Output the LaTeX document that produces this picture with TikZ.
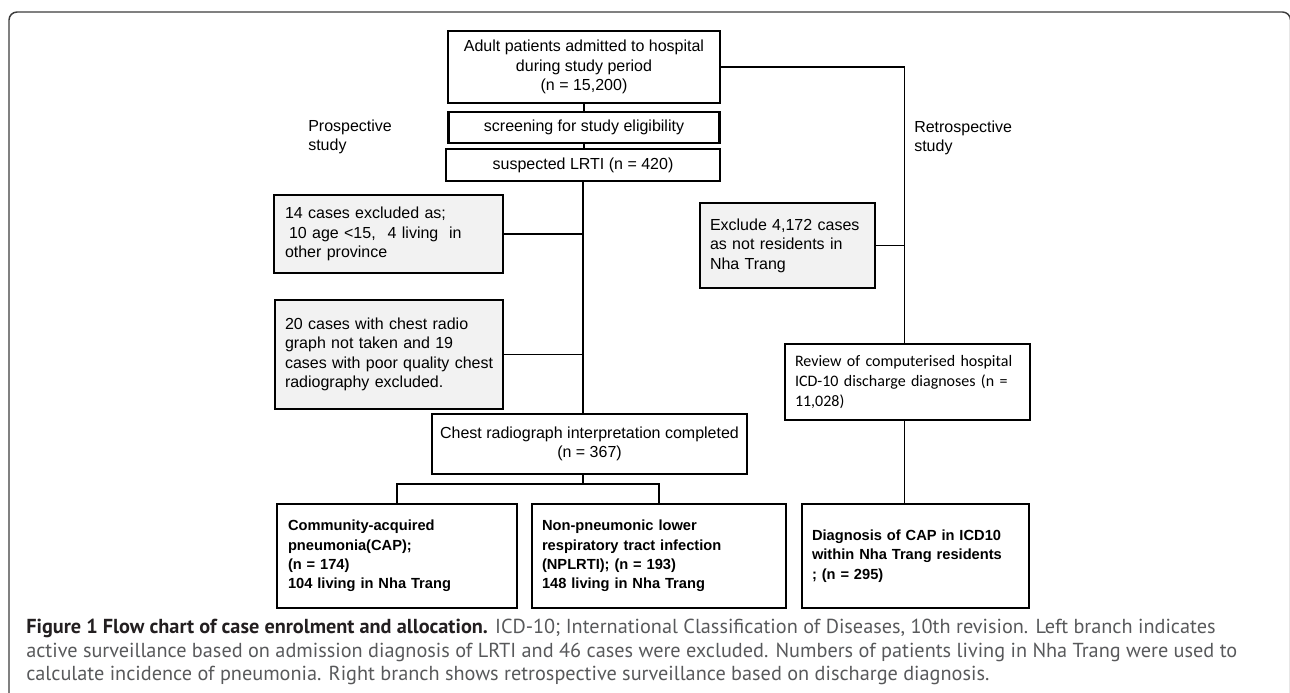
\documentclass[tikz,border=0pt]{standalone}
\usepackage{fontspec}
\setmainfont{Liberation Sans}
\newfontfamily\calib{Carlito}
\newfontfamily\capfont{PT Sans}
\usetikzlibrary{calc}
\definecolor{exgray}{RGB}{242,242,242}
\definecolor{framegray}{RGB}{60,60,60}
\definecolor{capgray}{RGB}{88,89,91}
\definecolor{capdark}{RGB}{35,31,32}
\newcommand{\capsize}{\capfont\fontsize{15.2}{18}\selectfont}
\begin{document}
\begin{tikzpicture}[x=0.75pt,y=-0.75pt,
  box/.style={draw=black, line width=1.9pt, inner ysep=0pt, font=\fontsize{12}{14.6}\selectfont},
  cbox/.style={box, align=center},
  lbox/.style={box, align=left},
  gbox/.style={lbox, fill=exgray},
  bbox/.style={lbox, font=\fontsize{11}{14.6}\selectfont\bfseries},
  rbox/.style={lbox, font=\calib\fontsize{12}{15}\selectfont},
  conn/.style={line width=1.4pt, draw=black},
  lbl/.style={font=\fontsize{12}{14.6}\selectfont, align=left, inner sep=0pt, anchor=west},
  capline/.style={inner sep=0pt, anchor=west, text=capgray}
]
\useasboundingbox (0,0) rectangle (1290,693);
\begin{scope}
  \clip (0,0) rectangle (1290,693);
  \draw[framegray, line width=1.1pt, rounded corners=6pt] (9,700) -- (9,12) -- (1290.5,12) -- (1290.5,700);
\end{scope}

% left / central column
\node[cbox, minimum width=204pt, minimum height=54pt] (adult) at (584,67)
  {Adult patients admitted to hospital\\during study period\\(n = 15,200)};
\node[cbox, minimum width=203.25pt, minimum height=23.25pt] (screen) at (584,127.5)
  {screening for study eligibility};
\node[cbox, minimum width=205.5pt, minimum height=24pt] (lrti) at (583,165)
  {suspected LRTI (n = 420)};
\node[gbox, inner xsep=8.25pt, text width=155.25pt, minimum height=58.5pt] (ex1) at (388.5,234)
  {14 cases excluded as;\\\hspace*{3pt}10 age <15,\hspace*{9pt}4 living\hspace*{4pt} in\\other province};
\node[gbox, inner xsep=7.5pt, text width=156pt, minimum height=81.75pt] (ex2) at (389,354.5)
  {\mbox{20 cases with chest radio}\\\mbox{graph not taken and 19}\\\mbox{cases with poor quality chest}\\\mbox{radiography excluded.}};
\node[cbox, minimum width=236.25pt, minimum height=45pt] (chest) at (589.5,444)
  {Chest radiograph interpretation completed\\(n = 367)};
\node[bbox, inner xsep=8.25pt, text width=163.5pt, minimum height=78pt] (cap) at (397,556)
  {Community-acquired\\pneumonia(CAP);\\(n = 174)\\104 living in Nha Trang};
\node[bbox, inner xsep=7.5pt, text width=175.5pt, minimum height=78pt] (npl) at (659,556)
  {Non-pneumonic lower\\respiratory tract infection\\(NPLRTI); (n = 193)\\148 living in Nha Trang};

% right column
\node[gbox, inner xsep=7.5pt, text width=116.25pt, minimum height=63.75pt] (ex3) at (787.5,245.5)
  {Exclude 4,172 cases\\as not residents in\\Nha Trang};
\node[rbox, inner xsep=7.5pt, text width=168.75pt, minimum height=57pt] (review) at (907.5,382)
  {Review of computerised hospital\\ICD-10 discharge diagnoses (n =\\11,028)};
\node[bbox, inner xsep=7.5pt, text width=155.25pt, minimum height=78pt] (diag) at (915.5,556)
  {Diagnosis of CAP in ICD10\\within Nha Trang residents\\; (n = 295)\\[5pt]};

% labels
\node[lbl] (prosp) at (308,137) {Prospective\\study};
\node[lbl] (retro) at (914,138) {Retrospective\\study};

% connectors
\coordinate (rc) at (904.5,0);
\coordinate (split) at (lrti.south |- 0,484);
\draw[conn] (adult.south) -- (adult.south |- screen.north);
\draw[conn] (screen.south) -- (screen.south |- lrti.north);
\draw[conn] (lrti.south) -- (lrti.south |- chest.north);
\draw[conn] (ex1.east) -- (ex1.east -| lrti.south);
\draw[conn] (ex2.east) -- (ex2.east -| lrti.south);
\draw[conn] (lrti.south |- chest.south) -- (split);
\draw[conn] (cap.north) |- (split) -| (npl.north);
\draw[conn] (adult.east) -| (rc |- review.north);
\draw[conn] (ex3.east) -- (ex3.east -| rc);
\draw[conn] (rc |- review.south) -- (rc |- diag.north);

% caption
\node[capline] (cap1) at (26,628)
  {\capsize{\color{capdark}\bfseries Figure 1 Flow chart of case enrolment and allocation.} ICD-10; International Classification of Diseases, 10th revision. Left branch indicates};
\node[capline] (cap2) at (26,652)
  {\capsize active surveillance based on admission diagnosis of LRTI and 46 cases were excluded. Numbers of patients living in Nha Trang were used to};
\node[capline] (cap3) at (26,675)
  {\capsize calculate incidence of pneumonia. Right branch shows retrospective surveillance based on discharge diagnosis.};
\end{tikzpicture}
\end{document}
